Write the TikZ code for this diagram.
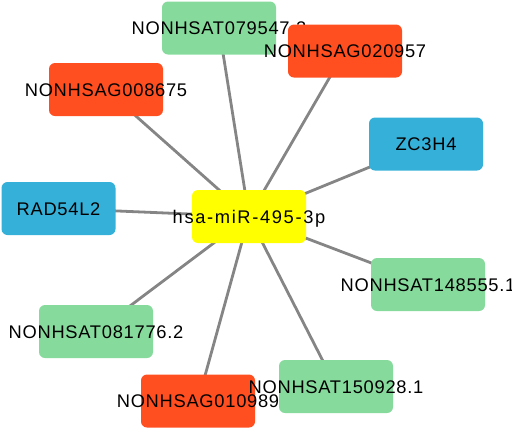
\documentclass[tikz,border=0pt]{standalone}
\usepackage{fontspec}
\setmainfont{Liberation Sans}
\newfontfamily\lblfont[LetterSpace=4]{Liberation Sans}
\newfontfamily\cenfont[LetterSpace=9]{Liberation Sans}
\definecolor{cgreen}{HTML}{86DB9C}
\definecolor{cred}{HTML}{FF4E20}
\definecolor{cblue}{HTML}{35B0D8}
\definecolor{cyel}{HTML}{FFFF00}
\definecolor{cedge}{HTML}{858585}
\begin{document}
\begin{tikzpicture}[x=1pt,y=-1pt,
  box/.style={rectangle, rounded corners=6pt, minimum width=114pt, minimum height=53pt, inner sep=0pt, draw=none},
  lbl/.style={inner sep=0pt, font=\lblfont\fontsize{18.3}{20}\selectfont, text height=13.1pt, text depth=0pt, anchor=center},
  edge/.style={draw=cedge, line width=2.8pt}]
\useasboundingbox (0,0) rectangle (512,429);
% coordinates of node centres
\coordinate (pc) at (249,216.5);
\coordinate (p1) at (219,28);
\coordinate (p2) at (345,51);
\coordinate (p3) at (106,89.5);
\coordinate (p4) at (426,144);
\coordinate (p5) at (58.5,208.5);
\coordinate (p6) at (428,284.5);
\coordinate (p7) at (96,331.5);
\coordinate (p8) at (198,401);
\coordinate (p9) at (336,386.5);
% edges
\foreach \p in {p1,p2,p3,p4,p5,p6,p7,p8,p9} \draw[edge] (pc) -- (\p);
% nodes
\node[box, fill=cgreen] (n1) at (p1) {};
\node[lbl] (n1l) at (n1) {NONHSAT079547.2};
\node[box, fill=cred] (n2) at (p2) {};
\node[lbl] (n2l) at (n2) {NONHSAG020957};
\node[box, fill=cred] (n3) at (p3) {};
\node[lbl] (n3l) at (n3) {NONHSAG008675};
\node[box, fill=cblue] (n4) at (p4) {};
\node[lbl] (n4l) at (n4) {ZC3H4};
\node[box, fill=cblue] (n5) at (p5) {};
\node[lbl] (n5l) at (n5) {RAD54L2};
\node[box, fill=cyel] (nc) at (pc) {};
\node[lbl, font=\cenfont\fontsize{18.3}{20}\selectfont] (ncl) at (nc) {hsa-miR-495-3p};
\node[box, fill=cgreen] (n6) at (p6) {};
\node[lbl] (n6l) at (n6) {NONHSAT148555.1};
\node[box, fill=cgreen] (n7) at (p7) {};
\node[lbl] (n7l) at (n7) {NONHSAT081776.2};
\node[box, fill=cred] (n8) at (p8) {};
\node[lbl] (n8l) at (n8) {NONHSAG010989};
\node[box, fill=cgreen] (n9) at (p9) {};
\node[lbl] (n9l) at (n9) {NONHSAT150928.1};
\end{tikzpicture}
\end{document}
